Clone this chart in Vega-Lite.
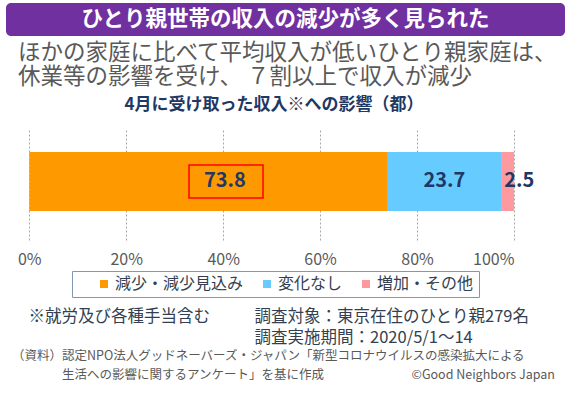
{
  "$schema": "https://vega.github.io/schema/vega-lite/v6.json",
  "background": "white",
  "padding": {"left": 6, "top": 3, "right": 0, "bottom": 0},
  "config": {
    "font": "Noto Sans CJK JP",
    "view": {"stroke": null},
    "concat": {"spacing": 8}
  },
  "datasets": {
    "banner": [{"heading": "ひとり親世帯の収入の減少が多く見られた"}],
    "income": [
      {"survey": "都", "category": "減少・減少見込み", "value": 73.8, "order": 1},
      {"survey": "都", "category": "変化なし", "value": 23.7, "order": 2},
      {"survey": "都", "category": "増加・その他", "value": 2.5, "order": 3}
    ]
  },
  "title": {
    "text": [
      "\u200b　※就労及び各種手当含む　　\u2002\u2009調査対象：東京在住のひとり親279名",
      "\u200b　　　　　　　　　　　　　　\u2002\u2009調査実施期間：2020/5/1～14"
    ],
    "subtitle": [
      "（資料）認定NPO法人グッドネーバーズ・ジャパン「新型コロナウイルスの感染拡大による",
      "\u200b　　　　生活への影響に関するアンケート」を基に作成　　　　　　　©Good Neighbors Japan"
    ],
    "orient": "bottom",
    "anchor": "start",
    "dx": 6,
    "offset": 11,
    "fontSize": 16.5,
    "lineHeight": 21,
    "fontWeight": "normal",
    "color": "#333F50",
    "subtitleFontSize": 12.5,
    "subtitleLineHeight": 19,
    "subtitleColor": "#595959",
    "subtitlePadding": 4
  },
  "vconcat": [
    {
      "width": 559,
      "height": 33,
      "view": {"fill": "#7030A0", "cornerRadius": 5, "stroke": null},
      "data": {"name": "banner"},
      "mark": {"type": "text", "color": "white", "fontSize": 21.5, "fontWeight": "bold", "baseline": "middle"},
      "encoding": {"text": {"field": "heading"}},
      "title": {
        "text": ["ほかの家庭に比べて平均収入が低いひとり親家庭は、", "休業等の影響を受け、 ７割以上で収入が減少"],
        "orient": "bottom",
        "anchor": "start",
        "dx": 12,
        "offset": 6,
        "fontSize": 22.5,
        "lineHeight": 23.5,
        "fontWeight": "normal",
        "color": "#595959"
      }
    },
    {
      "width": 508,
      "height": 110,
      "title": {
        "text": "4月に受け取った収入※への影響（都）",
        "anchor": "middle",
        "dx": 14,
        "offset": 16,
        "fontSize": 17,
        "fontWeight": "bold",
        "color": "#1F3864"
      },
      "data": {"name": "income"},
      "encoding": {
        "y": {"field": "survey", "type": "nominal", "axis": null,
              "scale": {"paddingInner": 0, "paddingOuter": 0.432, "align": 0.431}},
        "order": {"field": "order", "type": "quantitative"}
      },
      "layer": [
        {
          "mark": {"type": "bar"},
          "encoding": {
            "x": {
              "field": "value", "type": "quantitative", "stack": "zero",
              "scale": {"domain": [-4.8, 100], "nice": false, "zero": false},
              "axis": {
                "values": [0, 20, 40, 60, 80, 100],
                "labelExpr": "datum.value + '%'",
                "title": null, "domain": false, "ticks": false,
                "labelFontSize": 16, "labelColor": "#595959", "labelPadding": 11,
                "grid": true, "gridColor": "#A6A6A6", "gridDash": [2, 2], "gridWidth": 1
              }
            },
            "color": {
              "field": "category", "type": "nominal",
              "scale": {"domain": ["減少・減少見込み", "変化なし", "増加・その他"],
                        "range": ["#FF9900", "#66CCFF", "#FF99A0"]},
              "legend": {
                "orient": "none", "legendX": 66, "legendY": 268,
                "direction": "horizontal",
                "title": "\u200b　\u200b", "titleOrient": "left", "titleFontSize": 16, "titlePadding": 2,
                "symbolType": "square", "symbolSize": 64, "symbolStrokeWidth": 0,
                "labelFontSize": 16, "labelColor": "#333F50", "labelOffset": 3,
                "columnPadding": 15, "padding": 5,
                "strokeColor": "#8497B0", "fillColor": "white"
              }
            }
          }
        },
        {
          "mark": {"type": "text", "fontSize": 20, "fontWeight": "bold", "color": "#1F3864", "baseline": "middle", "align": "center"},
          "encoding": {
            "x": {"field": "value", "type": "quantitative", "stack": "zero", "bandPosition": 0.547},
            "detail": {"field": "category"},
            "text": {"condition": {"test": "datum.category === '減少・減少見込み'", "field": "value", "type": "quantitative", "format": ".1f"}, "value": ""}
          }
        },
        {
          "mark": {"type": "text", "fontSize": 20, "fontWeight": "bold", "color": "#1F3864", "baseline": "middle", "align": "center"},
          "encoding": {
            "x": {"field": "value", "type": "quantitative", "stack": "zero", "bandPosition": 0.5},
            "detail": {"field": "category"},
            "text": {"condition": {"test": "datum.category === '変化なし'", "field": "value", "type": "quantitative", "format": ".1f"}, "value": ""}
          }
        },
        {
          "mark": {"type": "text", "fontSize": 20, "fontWeight": "bold", "color": "#1F3864", "baseline": "middle", "align": "left"},
          "encoding": {
            "x": {"field": "value", "type": "quantitative", "stack": "zero", "bandPosition": 0.2},
            "detail": {"field": "category"},
            "text": {"condition": {"test": "datum.category === '増加・その他'", "field": "value", "type": "quantitative", "format": ".1f"}, "value": ""}
          }
        },
        {
          "mark": {"type": "point", "shape": "M-1,-0.446L1,-0.446L1,0.446L-1,0.446Z", "size": 5476,
                   "filled": false, "stroke": "#FF0000", "strokeWidth": 1.5},
          "encoding": {
            "x": {"field": "value", "type": "quantitative", "stack": "zero", "bandPosition": 0.55},
            "detail": {"field": "category"},
            "opacity": {"condition": {"test": "datum.category === '減少・減少見込み'", "value": 1}, "value": 0}
          }
        }
      ]
    }
  ]
}
